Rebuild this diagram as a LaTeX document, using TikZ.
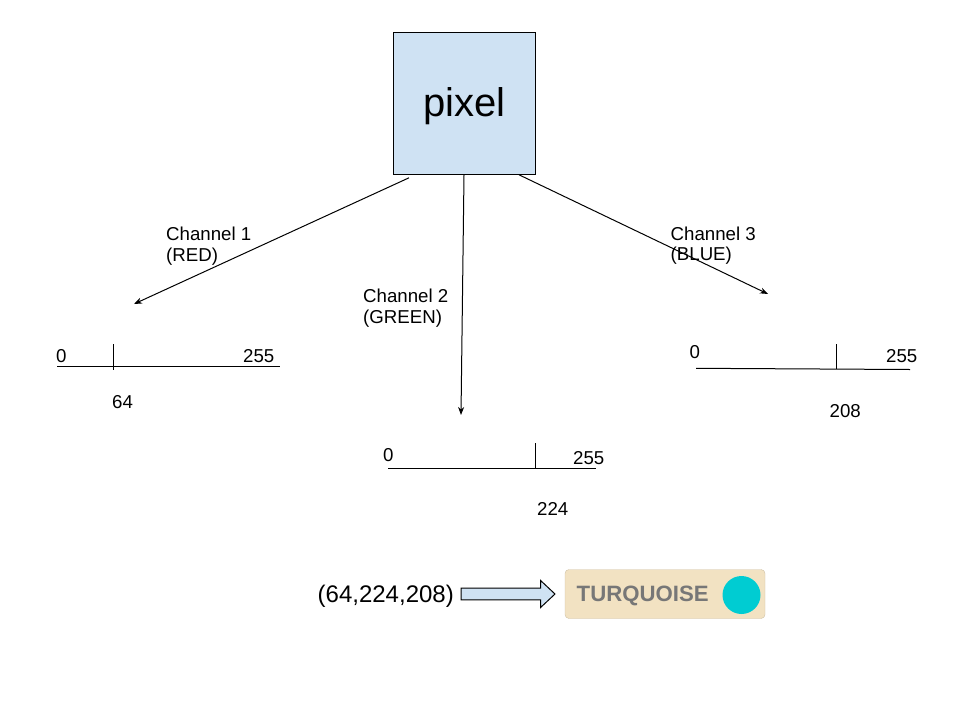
\documentclass[tikz,border=0pt]{standalone}
\usepackage{fontspec}
\setmainfont{Liberation Sans}
\usetikzlibrary{arrows.meta,calc}
\definecolor{pixblue}{HTML}{CFE2F3}
\definecolor{badgebg}{HTML}{F2E2C2}
\definecolor{badgetext}{HTML}{777777}
\definecolor{turq}{HTML}{00CCD2}
\begin{document}
\begin{tikzpicture}[x=1pt,y=-1pt,
  lbl/.style={inner sep=0pt, anchor=base west, font=\fontsize{18.67}{21}\selectfont},
  chlbl/.style={inner sep=0pt, anchor=north west, align=left, font=\fontsize{18.67}{20.5}\selectfont},
  conn/.style={line width=1pt, -{Stealth[length=8pt,width=6pt,inset=2.5pt]}},
  scaleline/.style={line width=1pt},
  pixbox/.style={draw, line width=1pt, fill=pixblue, minimum width=142pt, minimum height=142pt, inner sep=0pt, text height=28pt, text depth=2pt, font=\fontsize{40}{48}\selectfont}
]
\useasboundingbox (0,0) rectangle (960,720);

% pixel box
\node[pixbox] (pix) at (464.5,103.3) {pixel};

% channel target coordinates
\coordinate (redtip) at (134,304);
\coordinate (greentip) at (461,415);
\coordinate (bluetip) at (768,294);

\draw[conn] ($(pix.south west)+(16,3)$) -- (redtip);
\draw[conn] ($(pix.south west)+(71,0)$) -- (greentip);
\draw[conn] ($(pix.south west)+(126,0)$) -- (bluetip);

% channel labels
\node[chlbl] (c1) at (166,227.2) {Channel 1\\(RED)};
\node[chlbl] (c2) at (363,289.2) {Channel 2\\(GREEN)};
\node[chlbl] (c3) at (670.5,226.5) {Channel 3\\(BLUE)};

% red scale
\draw[scaleline] (57,366) -- (280,366);
\draw[scaleline] (113.5,344) -- (113.5,369.5);
\node[lbl] (r0) at (56,362) {0};
\node[lbl] (r255) at (243,362) {255};
\node[lbl] (r64) at (112,408) {64};

% green scale
\draw[scaleline] (388,468.3) -- (596,468.3);
\draw[scaleline] (535.8,443) -- (535.8,468.3);
\node[lbl] (g0) at (383,461) {0};
\node[lbl] (g255) at (573,464.3) {255};
\node[lbl] (g224) at (537,515) {224};

% blue scale
\draw[scaleline] (696,368.3) -- (910,369.5);
\draw[scaleline] (836,344) -- (836,368.8);
\node[lbl] (b0) at (689.5,358.5) {0};
\node[lbl] (b255) at (886,362) {255};
\node[lbl] (b208) at (829.5,417) {208};

% bottom
\node[inner sep=0pt, anchor=base west, font=\fontsize{24}{28}\selectfont] (tuple) at (317.5,602.5) {(64,224,208)};

\node[draw=badgebg!85!black, line width=0.4pt, fill=badgebg, rounded corners=4pt, minimum width=200pt, minimum height=49pt, inner sep=0pt] (badge) at (665,594) {};
\node[inner sep=0pt, anchor=base west, text=badgetext, font=\bfseries\fontsize{22.2}{24}\selectfont] (tq) at (576.5,601.8) {TURQUOISE};
\node[circle, fill=turq, minimum size=38pt, inner sep=0pt] (dot) at (741.5,595) {};

% block arrow from tuple to badge
\coordinate (arrstart) at (461,594);
\coordinate (arrtip) at (555,594);
\draw[line width=1pt, fill=pixblue]
  ($(arrstart)+(0,-5.8)$) -- ($(arrtip)+(-14.3,-5.8)$) -- ($(arrtip)+(-14.3,-13.4)$) -- (arrtip)
  -- ($(arrtip)+(-14.3,13.4)$) -- ($(arrtip)+(-14.3,5.8)$) -- ($(arrstart)+(0,5.8)$) -- cycle;
\end{tikzpicture}
\end{document}
